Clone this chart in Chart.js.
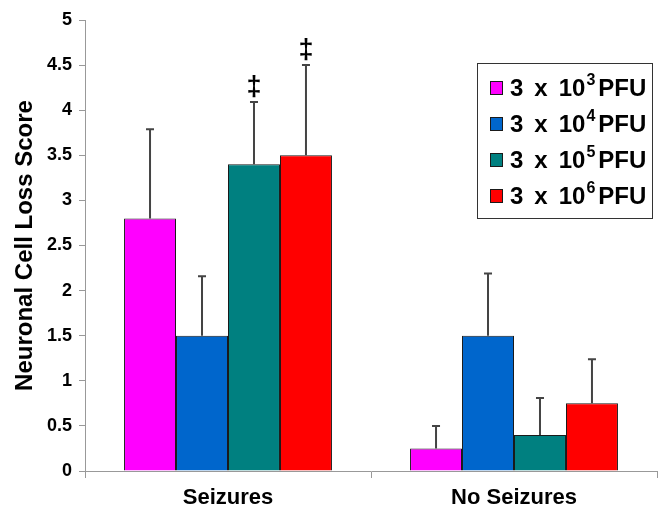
<!DOCTYPE html>
<html>
<head>
<meta charset="utf-8">
<script src="https://cdn.jsdelivr.net/npm/chart.js@4.4.1/dist/chart.umd.min.js"></script>
<style>
  body { margin: 0; background: #fff; }
</style>
</head>
<body>
<canvas id="myChart" width="663" height="512"></canvas>
<script>
// data
const categories = ['Seizures', 'No Seizures']
const doseExponents = ['3', '4', '5', '6']
const doseColors = ['#ff00ff', '#0066cc', '#008080', '#ff0000']
const score3 = [2.8, 0.25]
const score4 = [1.5, 1.5]
const score5 = [3.4, 0.4]
const score6 = [3.5, 0.75]
// upper error (SEM)
const err3 = [0.99, 0.25]
const err4 = [0.66, 0.69]
const err5 = [0.69, 0.41]
const err6 = [1.0, 0.49]
// which bars get a double dagger: [series, category]
const daggerMarks = [[2, 0], [3, 0]]
const yMin = 0, yMax = 5, yStep = 0.5

const FONT = "'Liberation Sans', Arial, sans-serif"
const scores = [score3, score4, score5, score6]
const errors = [err3, err4, err5, err6]

const datasets = doseExponents.map(function(e, i){
  return {
    label: '3 x 10^' + e + ' PFU',
    data: scores[i],
    errors: errors[i],
    backgroundColor: doseColors[i],
    borderColor: '#1a1a1a',
    borderWidth: 1,
    categoryPercentage: 0.727,
    barPercentage: 1
  }
})

// error bars + dagger marks
const errorBarPlugin = {
  id: 'errorBars',
  afterDatasetsDraw(chart){
    const ctx = chart.ctx
    const y = chart.scales.y
    ctx.save()
    chart.data.datasets.forEach(function(ds, i){
      const meta = chart.getDatasetMeta(i)
      meta.data.forEach(function(bar, j){
        const top = y.getPixelForValue(ds.data[j] + ds.errors[j])
        ctx.strokeStyle = '#444'
        ctx.lineWidth = 2
        ctx.beginPath()
        ctx.moveTo(bar.x, bar.y)
        ctx.lineTo(bar.x, top)
        ctx.moveTo(bar.x - 4, top)
        ctx.lineTo(bar.x + 4, top)
        ctx.stroke()
      })
    })
    daggerMarks.forEach(function(m){
      const ds = chart.data.datasets[m[0]]
      const bar = chart.getDatasetMeta(m[0]).data[m[1]]
      const top = y.getPixelForValue(ds.data[m[1]] + ds.errors[m[1]])
      ctx.fillStyle = '#000'
      ctx.font = 'bold 27px ' + FONT
      ctx.textAlign = 'center'
      ctx.textBaseline = 'middle'
      ctx.fillText('\u2021', bar.x, top - 15)
    })
    ctx.restore()
  }
}

// boxed legend with superscript exponents
const boxLegendPlugin = {
  id: 'boxLegend',
  afterDraw(chart){
    const ctx = chart.ctx
    ctx.save()
    ctx.strokeStyle = '#333'
    ctx.lineWidth = 1
    ctx.strokeRect(477.5, 63.5, 175, 155)
    doseExponents.forEach(function(e, i){
      const cy = 88 + i * 36
      ctx.fillStyle = doseColors[i]
      ctx.fillRect(490, cy - 7, 13, 14)
      ctx.strokeStyle = '#1a1a1a'
      ctx.strokeRect(490.5, cy - 6.5, 12, 13)
      ctx.fillStyle = '#000'
      ctx.textAlign = 'left'
      ctx.textBaseline = 'middle'
      let x = 510
      ctx.font = 'bold 24px ' + FONT
      ctx.fillText('3', x, cy + 1)
      x += ctx.measureText('3').width + 11
      ctx.fillText('x', x, cy + 1)
      x += ctx.measureText('x').width + 11
      ctx.fillText('10', x, cy + 1)
      x += ctx.measureText('10').width + 1
      ctx.font = 'bold 16px ' + FONT
      ctx.fillText(e, x, cy - 7)
      x += ctx.measureText(e).width + 3
      ctx.font = 'bold 24px ' + FONT
      ctx.fillText('PFU', x, cy + 1)
    })
    ctx.restore()
  }
}

const config = {
  type: 'bar',
  data: { labels: categories, datasets: datasets },
  options: {
    responsive: false,
    animation: false,
    layout: { padding: { top: 20, right: 6, bottom: 0, left: 0 } },
    scales: {
      x: {
        grid: { display: true, drawOnChartArea: false, drawTicks: true, tickLength: 7, color: '#999', offset: true },
        border: { color: '#999' },
        ticks: { color: '#000', padding: 7, font: { family: FONT, size: 22, weight: 'bold' } },
        afterFit: function(s){ s.height = 41 }
      },
      y: {
        min: yMin,
        max: yMax,
        grid: { display: true, drawOnChartArea: false, drawTicks: true, tickLength: 6, color: '#999' },
        border: { color: '#999' },
        ticks: {
          stepSize: yStep,
          color: '#000',
          padding: 7,
          font: { family: FONT, size: 18, weight: 'bold' },
          callback: function(v){ return String(Math.round(v * 10) / 10) }
        },
        title: {
          display: true,
          text: 'Neuronal Cell Loss Score',
          color: '#000',
          padding: { top: 11, bottom: 0 },
          font: { family: FONT, size: 24, weight: 'bold' }
        },
        afterFit: function(s){ s.width = 85 }
      }
    },
    plugins: {
      legend: { display: false },
      tooltip: { enabled: false }
    }
  },
  plugins: [errorBarPlugin, boxLegendPlugin]
}

const myChart = new Chart(document.getElementById('myChart'), config)
</script>
</body>
</html>
